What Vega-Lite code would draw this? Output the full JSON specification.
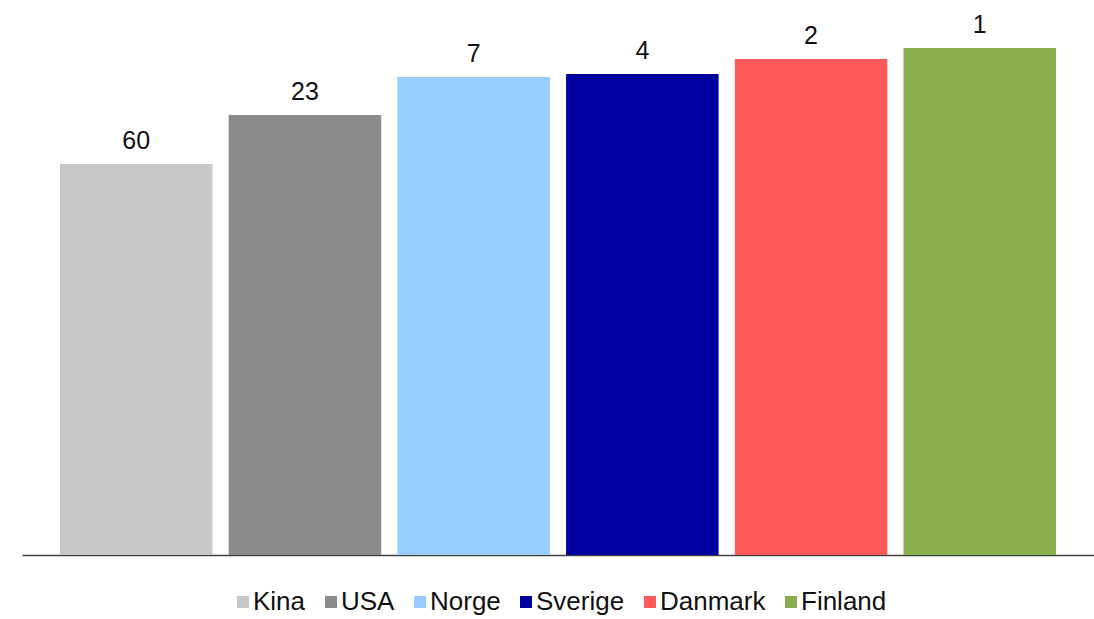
{
  "$schema": "https://vega.github.io/schema/vega-lite/v6.json",
  "width": 1072,
  "height": 555,
  "padding": {"left": 22, "top": 0, "right": 0, "bottom": 0},
  "background": "white",
  "data": {
    "values": [
      {"land": "Kina", "verdi": 391, "etikett": "60"},
      {"land": "USA", "verdi": 440, "etikett": "23"},
      {"land": "Norge", "verdi": 478, "etikett": "7"},
      {"land": "Sverige", "verdi": 481, "etikett": "4"},
      {"land": "Danmark", "verdi": 496, "etikett": "2"},
      {"land": "Finland", "verdi": 507, "etikett": "1"}
    ]
  },
  "encoding": {
    "x": {
      "field": "land",
      "type": "nominal",
      "sort": null,
      "scale": {"paddingInner": 0.096, "paddingOuter": 0.225},
      "axis": {"title": null, "labels": false, "ticks": false, "domainColor": "#404040", "domainWidth": 1.3, "grid": false}
    },
    "y": {
      "field": "verdi",
      "type": "quantitative",
      "scale": {"domain": [0, 555], "nice": false},
      "axis": null
    }
  },
  "layer": [
    {
      "mark": {"type": "bar"},
      "encoding": {
        "color": {
          "field": "land",
          "type": "nominal",
          "sort": null,
          "scale": {
            "domain": ["Kina", "USA", "Norge", "Sverige", "Danmark", "Finland"],
            "range": ["#C8C7C8", "#8A8B8D", "#99CCFF", "#0000A0", "#FF5A5A", "#8AAD4D"]
          },
          "legend": {
            "title": null,
            "orient": "bottom",
            "direction": "horizontal",
            "symbolType": "square",
            "symbolSize": 144,
            "symbolStrokeWidth": 0,
            "symbolOpacity": 1,
            "labelFont": "Liberation Sans",
            "labelFontSize": 26,
            "labelColor": "#111111",
            "labelOffset": -3,
            "columnPadding": 12,
            "offset": 34
          }
        }
      }
    },
    {
      "mark": {"type": "text", "dy": -15, "baseline": "alphabetic", "font": "Liberation Sans", "fontSize": 25, "color": "#111111"},
      "encoding": {"text": {"field": "etikett"}}
    }
  ],
  "config": {"view": {"stroke": null}, "legend": {"layout": {"bottom": {"anchor": "middle"}}}}
}
